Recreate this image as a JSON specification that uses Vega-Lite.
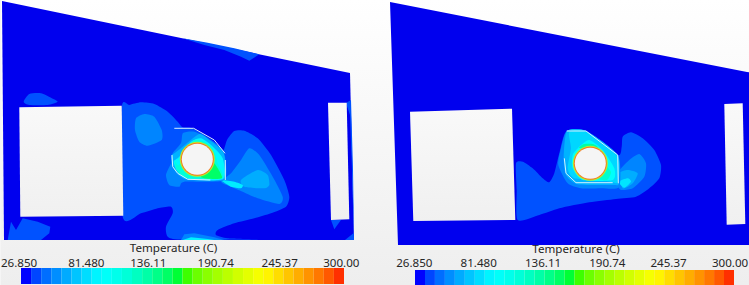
{
"$schema":"https://vega.github.io/schema/vega-lite/v6.json",
"width":749,"height":285,"padding":0,"autosize":{"type":"fit","contains":"padding"},
"background":"#f5f5f5",
"config":{"view":{"stroke":null}},
"resolve":{"scale":{"x":"independent"}},
"datasets":{
"contours":[
{"s":"L0","t":26.85,"x":1,"y":1},{"s":"L0","t":26.85,"x":349,"y":73},{"s":"L0","t":26.85,"x":353,"y":240},{"s":"L0","t":26.85,"x":3,"y":240},
{"s":"R0","t":26.85,"x":389,"y":2},{"s":"R0","t":26.85,"x":746,"y":72},{"s":"R0","t":26.85,"x":749,"y":72.5},{"s":"R0","t":26.85,"x":749,"y":245},{"s":"R0","t":26.85,"x":397,"y":245},
{"s":"L1a","t":42,"x":120.7,"y":108.3},{"s":"L1a","t":42,"x":128.3,"y":105},{"s":"L1a","t":42,"x":140,"y":102.3},{"s":"L1a","t":42,"x":153.3,"y":104},{"s":"L1a","t":42,"x":166.7,"y":111.7},{"s":"L1a","t":42,"x":176.7,"y":121.7},{"s":"L1a","t":42,"x":181.7,"y":127.3},{"s":"L1a","t":42,"x":191.7,"y":128.3},{"s":"L1a","t":42,"x":213.3,"y":141.7},{"s":"L1a","t":42,"x":221.7,"y":151.7},{"s":"L1a","t":42,"x":226,"y":140},{"s":"L1a","t":42,"x":233.3,"y":131},{"s":"L1a","t":42,"x":243.3,"y":130.7},{"s":"L1a","t":42,"x":256.7,"y":138.3},{"s":"L1a","t":42,"x":270,"y":155},{"s":"L1a","t":42,"x":283.3,"y":180},{"s":"L1a","t":42,"x":288.3,"y":196.7},{"s":"L1a","t":42,"x":285,"y":206.7},{"s":"L1a","t":42,"x":270,"y":213.3},{"s":"L1a","t":42,"x":253.3,"y":218.3},{"s":"L1a","t":42,"x":233.3,"y":223.3},{"s":"L1a","t":42,"x":216.7,"y":230},{"s":"L1a","t":42,"x":215,"y":235},{"s":"L1a","t":42,"x":226.7,"y":238.3},{"s":"L1a","t":42,"x":256.7,"y":239.5},{"s":"L1a","t":42,"x":180,"y":239.5},{"s":"L1a","t":42,"x":166.7,"y":236.7},{"s":"L1a","t":42,"x":165,"y":226.7},{"s":"L1a","t":42,"x":171.7,"y":213.3},{"s":"L1a","t":42,"x":170,"y":206.7},{"s":"L1a","t":42,"x":156.7,"y":208.3},{"s":"L1a","t":42,"x":140,"y":213.3},{"s":"L1a","t":42,"x":121.7,"y":216.7},
{"s":"L1b","t":42,"x":22.7,"y":101.7},{"s":"L1b","t":42,"x":28.3,"y":94},{"s":"L1b","t":42,"x":40,"y":93.3},{"s":"L1b","t":42,"x":50,"y":97.7},{"s":"L1b","t":42,"x":56.7,"y":101.7},{"s":"L1b","t":42,"x":46.7,"y":105},{"s":"L1b","t":42,"x":28.3,"y":105},
{"s":"L1c","t":42,"x":6.7,"y":240},{"s":"L1c","t":42,"x":10,"y":221.7},{"s":"L1c","t":42,"x":15,"y":230},{"s":"L1c","t":42,"x":21.7,"y":218.3},{"s":"L1c","t":42,"x":36.7,"y":221.7},{"s":"L1c","t":42,"x":49.3,"y":226.7},{"s":"L1c","t":42,"x":48.3,"y":233.3},{"s":"L1c","t":42,"x":40,"y":240},
{"s":"L1d","t":42,"x":181.7,"y":38.3},{"s":"L1d","t":42,"x":206.7,"y":42.7},{"s":"L1d","t":42,"x":233.3,"y":48.3},{"s":"L1d","t":42,"x":258.3,"y":54.3},{"s":"L1d","t":42,"x":248.3,"y":60.7},{"s":"L1d","t":42,"x":240,"y":56.7},{"s":"L1d","t":42,"x":223.3,"y":50},{"s":"L1d","t":42,"x":203.3,"y":45},
{"s":"L1e","t":42,"x":345,"y":103},{"s":"L1e","t":42,"x":349,"y":115},{"s":"L1e","t":42,"x":351,"y":170},{"s":"L1e","t":42,"x":352.7,"y":233},{"s":"L1e","t":42,"x":344,"y":240},{"s":"L1e","t":42,"x":353,"y":240},{"s":"L1e","t":42,"x":352,"y":170},{"s":"L1e","t":42,"x":350,"y":100},
{"s":"L1f","t":42,"x":330,"y":220},{"s":"L1f","t":42,"x":333.3,"y":229.3},{"s":"L1f","t":42,"x":340,"y":220},
{"s":"L2a","t":54,"x":135,"y":118.3},{"s":"L2a","t":54,"x":143.3,"y":114},{"s":"L2a","t":54,"x":153.3,"y":116.7},{"s":"L2a","t":54,"x":160.7,"y":130},{"s":"L2a","t":54,"x":160.7,"y":140},{"s":"L2a","t":54,"x":146.7,"y":145.7},{"s":"L2a","t":54,"x":138.3,"y":141.7},{"s":"L2a","t":54,"x":134,"y":130},
{"s":"L2b","t":54,"x":230,"y":173.3},{"s":"L2b","t":54,"x":240,"y":160},{"s":"L2b","t":54,"x":248.3,"y":148.3},{"s":"L2b","t":54,"x":258.3,"y":155},{"s":"L2b","t":54,"x":271.7,"y":176.7},{"s":"L2b","t":54,"x":281.7,"y":196.7},{"s":"L2b","t":54,"x":278.3,"y":204},{"s":"L2b","t":54,"x":256.7,"y":198.3},{"s":"L2b","t":54,"x":241.7,"y":191.7},{"s":"L2b","t":54,"x":230,"y":186.7},{"s":"L2b","t":54,"x":220,"y":181.7},
{"s":"L2c","t":54,"x":180,"y":240},{"s":"L2c","t":54,"x":183.3,"y":234.3},{"s":"L2c","t":54,"x":193.3,"y":233.3},{"s":"L2c","t":54,"x":213.3,"y":237.3},{"s":"L2c","t":54,"x":223.3,"y":240},
{"s":"L3a","t":66,"x":240,"y":180},{"s":"L3a","t":66,"x":256.7,"y":170},{"s":"L3a","t":66,"x":266.7,"y":175},{"s":"L3a","t":66,"x":268.3,"y":185},{"s":"L3a","t":66,"x":263.3,"y":188.3},{"s":"L3a","t":66,"x":243.3,"y":186.7},
{"s":"L3b","t":90,"x":181.7,"y":240},{"s":"L3b","t":90,"x":190,"y":237.3},{"s":"L3b","t":90,"x":206.7,"y":239},{"s":"L3b","t":90,"x":213.3,"y":240},
{"s":"L4a","t":88,"x":220,"y":180},{"s":"L4a","t":88,"x":233.3,"y":181.7},{"s":"L4a","t":88,"x":241.7,"y":185},{"s":"L4a","t":88,"x":240,"y":188.3},{"s":"L4a","t":88,"x":230,"y":186.7},
{"s":"H2","t":54,"x":171.7,"y":153.3},{"s":"H2","t":54,"x":170,"y":163.3},{"s":"H2","t":54,"x":165,"y":175},{"s":"H2","t":54,"x":168.3,"y":185},{"s":"H2","t":54,"x":178.3,"y":186.7},{"s":"H2","t":54,"x":183.3,"y":181.7},{"s":"H2","t":54,"x":223.3,"y":180},{"s":"H2","t":54,"x":222.7,"y":151.7},{"s":"H2","t":54,"x":206.7,"y":138.3},{"s":"H2","t":54,"x":193.3,"y":131.7},{"s":"H2","t":54,"x":182,"y":133},{"s":"H2","t":54,"x":180,"y":143},
{"s":"H3","t":68,"x":180,"y":148.3},{"s":"H3","t":68,"x":198.3,"y":134},{"s":"H3","t":68,"x":208.3,"y":140},{"s":"H3","t":68,"x":222.7,"y":153.3},{"s":"H3","t":68,"x":222.7,"y":179.5},{"s":"H3","t":68,"x":185,"y":179.3},{"s":"H3","t":68,"x":173.3,"y":170},{"s":"H3","t":68,"x":170,"y":156.7},{"s":"H3","t":68,"x":173.3,"y":153.3},
{"s":"H4","t":92,"x":190,"y":141.7},{"s":"H4","t":92,"x":200,"y":138.3},{"s":"H4","t":92,"x":210,"y":145},{"s":"H4","t":92,"x":221.7,"y":158.3},{"s":"H4","t":92,"x":222,"y":179},{"s":"H4","t":92,"x":188.3,"y":179},{"s":"H4","t":92,"x":176.7,"y":171.7},{"s":"H4","t":92,"x":172.7,"y":161.7},{"s":"H4","t":92,"x":178.3,"y":156.7},
{"s":"H5","t":115,"x":191.7,"y":141},{"s":"H5","t":115,"x":201.7,"y":141},{"s":"H5","t":115,"x":211.7,"y":148},{"s":"H5","t":115,"x":216.7,"y":163},{"s":"H5","t":115,"x":221,"y":178},{"s":"H5","t":115,"x":185,"y":178},{"s":"H5","t":115,"x":176,"y":170},{"s":"H5","t":115,"x":173.5,"y":160},{"s":"H5","t":115,"x":178,"y":165},
{"s":"H6","t":150,"x":210,"y":160},{"s":"H6","t":150,"x":221,"y":178},{"s":"H6","t":150,"x":200,"y":177},
{"s":"Ra","t":42,"x":515,"y":163.3},{"s":"Ra","t":42,"x":521.7,"y":161.7},{"s":"Ra","t":42,"x":531.7,"y":168.3},{"s":"Ra","t":42,"x":541.7,"y":178.3},{"s":"Ra","t":42,"x":548.3,"y":182.3},{"s":"Ra","t":42,"x":553.3,"y":173.3},{"s":"Ra","t":42,"x":558.3,"y":153.3},{"s":"Ra","t":42,"x":565,"y":131.7},{"s":"Ra","t":42,"x":585,"y":131},{"s":"Ra","t":42,"x":616.7,"y":155},{"s":"Ra","t":42,"x":620.7,"y":146.7},{"s":"Ra","t":42,"x":621.7,"y":136.7},{"s":"Ra","t":42,"x":630,"y":132.3},{"s":"Ra","t":42,"x":641.7,"y":138.3},{"s":"Ra","t":42,"x":653.3,"y":150},{"s":"Ra","t":42,"x":660,"y":165},{"s":"Ra","t":42,"x":658.3,"y":178.3},{"s":"Ra","t":42,"x":648.3,"y":188.3},{"s":"Ra","t":42,"x":635,"y":196.7},{"s":"Ra","t":42,"x":615,"y":199},{"s":"Ra","t":42,"x":588.3,"y":202.3},{"s":"Ra","t":42,"x":558.3,"y":208.3},{"s":"Ra","t":42,"x":538.3,"y":215},{"s":"Ra","t":42,"x":516.7,"y":220},{"s":"Ra","t":42,"x":515.7,"y":190},
{"s":"Rb","t":54,"x":617.7,"y":171.7},{"s":"Rb","t":54,"x":628.3,"y":160},{"s":"Rb","t":54,"x":638.3,"y":154},{"s":"Rb","t":54,"x":645,"y":163.3},{"s":"Rb","t":54,"x":643.3,"y":176.7},{"s":"Rb","t":54,"x":631.7,"y":188.3},{"s":"Rb","t":54,"x":620,"y":190},{"s":"Rb","t":54,"x":616.7,"y":185},
{"s":"Rc","t":66,"x":618.3,"y":173.3},{"s":"Rc","t":66,"x":626.7,"y":170},{"s":"Rc","t":66,"x":636.7,"y":173.3},{"s":"Rc","t":66,"x":631.7,"y":183.3},{"s":"Rc","t":66,"x":621.7,"y":188.3},
{"s":"Rd","t":85,"x":617.7,"y":181.7},{"s":"Rd","t":85,"x":626.7,"y":178.3},{"s":"Rd","t":85,"x":630,"y":181.7},{"s":"Rd","t":85,"x":623.3,"y":187.7},
{"s":"RH2","t":54,"x":566,"y":130.7},{"s":"RH2","t":54,"x":560,"y":148.3},{"s":"RH2","t":54,"x":557.3,"y":165},{"s":"RH2","t":54,"x":566.7,"y":183.3},{"s":"RH2","t":54,"x":580,"y":188.3},{"s":"RH2","t":54,"x":600,"y":188.3},{"s":"RH2","t":54,"x":618.3,"y":186.7},{"s":"RH2","t":54,"x":616.7,"y":155},{"s":"RH2","t":54,"x":585,"y":130.7},
{"s":"RH3","t":68,"x":566,"y":131},{"s":"RH3","t":68,"x":585,"y":131},{"s":"RH3","t":68,"x":616.7,"y":155},{"s":"RH3","t":68,"x":617.7,"y":183.3},{"s":"RH3","t":68,"x":613.3,"y":185},{"s":"RH3","t":68,"x":576.7,"y":184.3},{"s":"RH3","t":68,"x":565,"y":175},{"s":"RH3","t":68,"x":562.7,"y":158.3},
{"s":"RH4","t":80,"x":568.3,"y":131.7},{"s":"RH4","t":80,"x":585,"y":131.7},{"s":"RH4","t":80,"x":616,"y":155.7},{"s":"RH4","t":80,"x":616.7,"y":181.7},{"s":"RH4","t":80,"x":611.7,"y":182.3},{"s":"RH4","t":80,"x":600,"y":180},{"s":"RH4","t":80,"x":573.3,"y":178.3},{"s":"RH4","t":80,"x":566.7,"y":168.3},{"s":"RH4","t":80,"x":570,"y":148.3},
{"s":"RH5","t":98,"x":578.3,"y":146.7},{"s":"RH5","t":98,"x":588.3,"y":140},{"s":"RH5","t":98,"x":601.7,"y":150},{"s":"RH5","t":98,"x":613.3,"y":168.3},{"s":"RH5","t":98,"x":611.7,"y":180},{"s":"RH5","t":98,"x":581.7,"y":180},{"s":"RH5","t":98,"x":571.7,"y":168.3},{"s":"RH5","t":98,"x":571.7,"y":155},
{"s":"RH6","t":135,"x":578.3,"y":148},{"s":"RH6","t":135,"x":583,"y":144},{"s":"RH6","t":135,"x":592,"y":144},{"s":"RH6","t":135,"x":597,"y":148},
{"s":"RH7","t":120,"x":603,"y":165},{"s":"RH7","t":120,"x":610,"y":172},{"s":"RH7","t":120,"x":606,"y":180},{"s":"RH7","t":120,"x":595,"y":178}
],
"holes":[
{"s":"a","x":18.3,"y":107.3},{"s":"a","x":120.7,"y":105.7},{"s":"a","x":122.3,"y":215.7},{"s":"a","x":19.3,"y":216.7},
{"s":"b","x":327,"y":102.7},{"s":"b","x":345.7,"y":102.7},{"s":"b","x":348.3,"y":219.3},{"s":"b","x":330,"y":220},
{"s":"c","x":409,"y":111.7},{"s":"c","x":511,"y":108.7},{"s":"c","x":514.3,"y":220},{"s":"c","x":412.3,"y":221},
{"s":"d","x":723.3,"y":104},{"s":"d","x":741.7,"y":103.3},{"s":"d","x":744.3,"y":224},{"s":"d","x":725.7,"y":224.7}
],
"plates":[
{"s":"A","x":173.3,"y":128.3},{"s":"A","x":192.7,"y":128.3},{"s":"A","x":213.3,"y":140},{"s":"A","x":224,"y":153.3},
{"s":"B","x":224.3,"y":160},{"s":"B","x":224.3,"y":180},
{"s":"C","x":209.3,"y":180},{"s":"C","x":186.7,"y":179.3},{"s":"C","x":176.7,"y":173.3},{"s":"C","x":171.7,"y":166.7},{"s":"C","x":171,"y":155},
{"s":"D","x":565.7,"y":131},{"s":"D","x":585,"y":131},{"s":"D","x":616.7,"y":155},{"s":"D","x":617.3,"y":183.3},
{"s":"E","x":563.3,"y":158.3},{"s":"E","x":565,"y":173.3},{"s":"E","x":575,"y":182.7},{"s":"E","x":611.7,"y":182.7}
],
"cylinders":[{"x":196.3,"y":159.3},{"x":589.3,"y":163.3}],
"bands":[
{"lo":26.85,"hi":35.39,"t":31.1},{"lo":35.39,"hi":43.92,"t":39.66},{"lo":43.92,"hi":52.46,"t":48.2},{"lo":52.46,"hi":60.99,"t":56.7},{"lo":60.99,"hi":69.53,"t":65.3},{"lo":69.53,"hi":78.07,"t":73.8},{"lo":78.07,"hi":86.6,"t":82.3},{"lo":86.6,"hi":95.14,"t":90.9},{"lo":95.14,"hi":103.67,"t":99.4},{"lo":103.67,"hi":112.21,"t":107.9},{"lo":112.21,"hi":120.74,"t":116.5},{"lo":120.74,"hi":129.28,"t":125},{"lo":129.28,"hi":137.82,"t":133.5},{"lo":137.82,"hi":146.35,"t":142.1},{"lo":146.35,"hi":154.89,"t":150.6},{"lo":154.89,"hi":163.42,"t":159.2},{"lo":163.42,"hi":171.96,"t":167.7},{"lo":171.96,"hi":180.5,"t":176.2},{"lo":180.5,"hi":189.03,"t":184.8},{"lo":189.03,"hi":197.57,"t":193.3},{"lo":197.57,"hi":206.1,"t":201.8},{"lo":206.1,"hi":214.64,"t":210.4},{"lo":214.64,"hi":223.18,"t":218.9},{"lo":223.18,"hi":231.71,"t":227.4},{"lo":231.71,"hi":240.25,"t":236},{"lo":240.25,"hi":248.78,"t":244.5},{"lo":248.78,"hi":257.32,"t":253},{"lo":257.32,"hi":265.86,"t":261.6},{"lo":265.86,"hi":274.39,"t":270.1},{"lo":274.39,"hi":282.93,"t":278.7},{"lo":282.93,"hi":291.46,"t":287.2},{"lo":291.46,"hi":300,"t":295.7}
],
"labels":[
{"l":"26.850","x":18,"y":266.7},{"l":"81.480","x":85.3,"y":266.7},{"l":"136.11","x":147.3,"y":266.7},{"l":"190.74","x":214.7,"y":266.7},{"l":"245.37","x":278.7,"y":266.7},{"l":"300.00","x":340.3,"y":266.7},
{"l":"Temperature (C)","x":172.5,"y":251.7},
{"l":"26.850","x":413.3,"y":267},{"l":"81.480","x":477.7,"y":267},{"l":"136.11","x":542,"y":267},{"l":"190.74","x":606.3,"y":267},{"l":"245.37","x":667.5,"y":267},{"l":"300.00","x":729,"y":267},
{"l":"Temperature (C)","x":575,"y":252.5}
]
},
"layer":[
{"data":{"values":[{}]},
 "mark":{"type":"rect","fill":{"gradient":"linear","x1":0,"y1":0,"x2":0,"y2":1,"stops":[{"offset":0,"color":"#ffffff"},{"offset":1,"color":"#eeeeee"}]}},
 "encoding":{
  "x":{"datum":0,"type":"quantitative","scale":{"domain":[0,749],"range":[0,749]},"axis":null},"x2":{"datum":749},
  "y":{"datum":0,"type":"quantitative","scale":{"domain":[0,285],"range":[0,285]},"axis":null},"y2":{"datum":285}}},
{"data":{"name":"contours"},
 "transform":[{"filter":{"field":"s","oneOf":["L0","R0","L1c","L1d","L1e","L1f"]}},{"window":[{"op":"row_number","as":"i"}]}],
 "mark":{"type":"line","filled":true,"strokeWidth":0,"interpolate":"linear"},
 "encoding":{
  "x":{"field":"x","type":"quantitative","scale":{"domain":[0,749],"range":[0,749]},"axis":null},
  "y":{"field":"y","type":"quantitative","scale":{"domain":[0,285],"range":[0,285]},"axis":null},
  "detail":{"field":"s"},"order":{"field":"i","type":"quantitative"},
  "color":{"field":"t","type":"quantitative","legend":null,"scale":{"domain":[26.85,31,40,95.1,163.4,231.7,300],"range":["#0000ee","#0000ff","#0048ff","#00ffff","#00ff00","#ffff00","#ff0000"]}}}},
{"data":{"name":"contours"},
 "transform":[{"filter":{"not":{"field":"s","oneOf":["L0","R0","L1c","L1d","L1e","L1f","L2c","L3b"]}}},{"window":[{"op":"row_number","as":"i"}]}],
 "mark":{"type":"line","filled":true,"strokeWidth":0,"interpolate":"cardinal-closed","tension":0.35},
 "encoding":{
  "x":{"field":"x","type":"quantitative","scale":{"domain":[0,749],"range":[0,749]},"axis":null},
  "y":{"field":"y","type":"quantitative","scale":{"domain":[0,285],"range":[0,285]},"axis":null},
  "detail":{"field":"s"},"order":{"field":"i","type":"quantitative"},
  "color":{"field":"t","type":"quantitative","legend":null,"scale":{"domain":[26.85,31,40,95.1,163.4,231.7,300],"range":["#0000ee","#0000ff","#0048ff","#00ffff","#00ff00","#ffff00","#ff0000"]}}}},
{"data":{"name":"contours"},
 "transform":[{"filter":{"field":"s","oneOf":["L2c","L3b"]}},{"window":[{"op":"row_number","as":"i"}]}],
 "mark":{"type":"line","filled":true,"strokeWidth":0,"interpolate":"linear"},
 "encoding":{
  "x":{"field":"x","type":"quantitative","scale":{"domain":[0,749],"range":[0,749]},"axis":null},
  "y":{"field":"y","type":"quantitative","scale":{"domain":[0,285],"range":[0,285]},"axis":null},
  "detail":{"field":"s"},"order":{"field":"i","type":"quantitative"},
  "color":{"field":"t","type":"quantitative","legend":null,"scale":{"domain":[26.85,31,40,95.1,163.4,231.7,300],"range":["#0000ee","#0000ff","#0048ff","#00ffff","#00ff00","#ffff00","#ff0000"]}}}},
{"data":{"name":"holes"},
 "transform":[{"window":[{"op":"row_number","as":"i"}]}],
 "mark":{"type":"line","filled":true,"strokeWidth":0,"fill":{"gradient":"linear","x1":0,"y1":0,"x2":0,"y2":1,"stops":[{"offset":0,"color":"#f9f9f9"},{"offset":1,"color":"#f0f0f0"}]}},
 "encoding":{
  "x":{"field":"x","type":"quantitative","scale":{"domain":[0,749],"range":[0,749]},"axis":null},
  "y":{"field":"y","type":"quantitative","scale":{"domain":[0,285],"range":[0,285]},"axis":null},
  "detail":{"field":"s"},"order":{"field":"i","type":"quantitative"}}},
{"data":{"name":"plates"},
 "transform":[{"window":[{"op":"row_number","as":"i"}]}],
 "mark":{"type":"line","stroke":"#d4eeff","strokeWidth":1},
 "encoding":{
  "x":{"field":"x","type":"quantitative","scale":{"domain":[0,749],"range":[0,749]},"axis":null},
  "y":{"field":"y","type":"quantitative","scale":{"domain":[0,285],"range":[0,285]},"axis":null},
  "detail":{"field":"s"},"order":{"field":"i","type":"quantitative"}}},
{"data":{"name":"cylinders"},
 "mark":{"type":"circle","size":1225,"fill":"#b8e830","opacity":1},
 "encoding":{
  "x":{"field":"x","type":"quantitative","scale":{"domain":[0,749],"range":[0,749]},"axis":null},
  "y":{"field":"y","type":"quantitative","scale":{"domain":[0,285],"range":[0,285]},"axis":null}}},
{"data":{"name":"cylinders"},
 "mark":{"type":"circle","size":1089,"fill":"#f47a20","opacity":1},
 "encoding":{
  "x":{"field":"x","type":"quantitative","scale":{"domain":[0,749],"range":[0,749]},"axis":null},
  "y":{"field":"y","type":"quantitative","scale":{"domain":[0,285],"range":[0,285]},"axis":null}}},
{"data":{"name":"cylinders"},
 "mark":{"type":"circle","size":961,"fill":"#f5f5f5","opacity":1},
 "encoding":{
  "x":{"field":"x","type":"quantitative","scale":{"domain":[0,749],"range":[0,749]},"axis":null},
  "y":{"field":"y","type":"quantitative","scale":{"domain":[0,285],"range":[0,285]},"axis":null}}},
{"data":{"name":"bands"},
 "mark":{"type":"rect"},
 "encoding":{
  "x":{"field":"lo","type":"quantitative","scale":{"domain":[26.85,300],"range":[20,343]},"axis":null},"x2":{"field":"hi"},
  "y":{"datum":268,"type":"quantitative","scale":{"domain":[0,285],"range":[0,285]},"axis":null},"y2":{"datum":284},
  "color":{"field":"t","type":"quantitative","legend":null,"scale":{"domain":[26.85,31,40,95.1,163.4,231.7,300],"range":["#0000ee","#0000ff","#0048ff","#00ffff","#00ff00","#ffff00","#ff0000"]}}}},
{"data":{"name":"bands"},
 "mark":{"type":"rect"},
 "encoding":{
  "x":{"field":"lo","type":"quantitative","scale":{"domain":[26.85,300],"range":[414,733]},"axis":null},"x2":{"field":"hi"},
  "y":{"datum":270,"type":"quantitative","scale":{"domain":[0,285],"range":[0,285]},"axis":null},"y2":{"datum":285},
  "color":{"field":"t","type":"quantitative","legend":null,"scale":{"domain":[26.85,31,40,95.1,163.4,231.7,300],"range":["#0000ee","#0000ff","#0048ff","#00ffff","#00ff00","#ffff00","#ff0000"]}}}},
{"data":{"name":"labels"},
 "mark":{"type":"text","font":"Noto Sans","fontSize":11.6,"fill":"#262626","baseline":"alphabetic","align":"center"},
 "encoding":{
  "x":{"field":"x","type":"quantitative","scale":{"domain":[0,749],"range":[0,749]},"axis":null},
  "y":{"field":"y","type":"quantitative","scale":{"domain":[0,285],"range":[0,285]},"axis":null},
  "text":{"field":"l"}}}
]
}
